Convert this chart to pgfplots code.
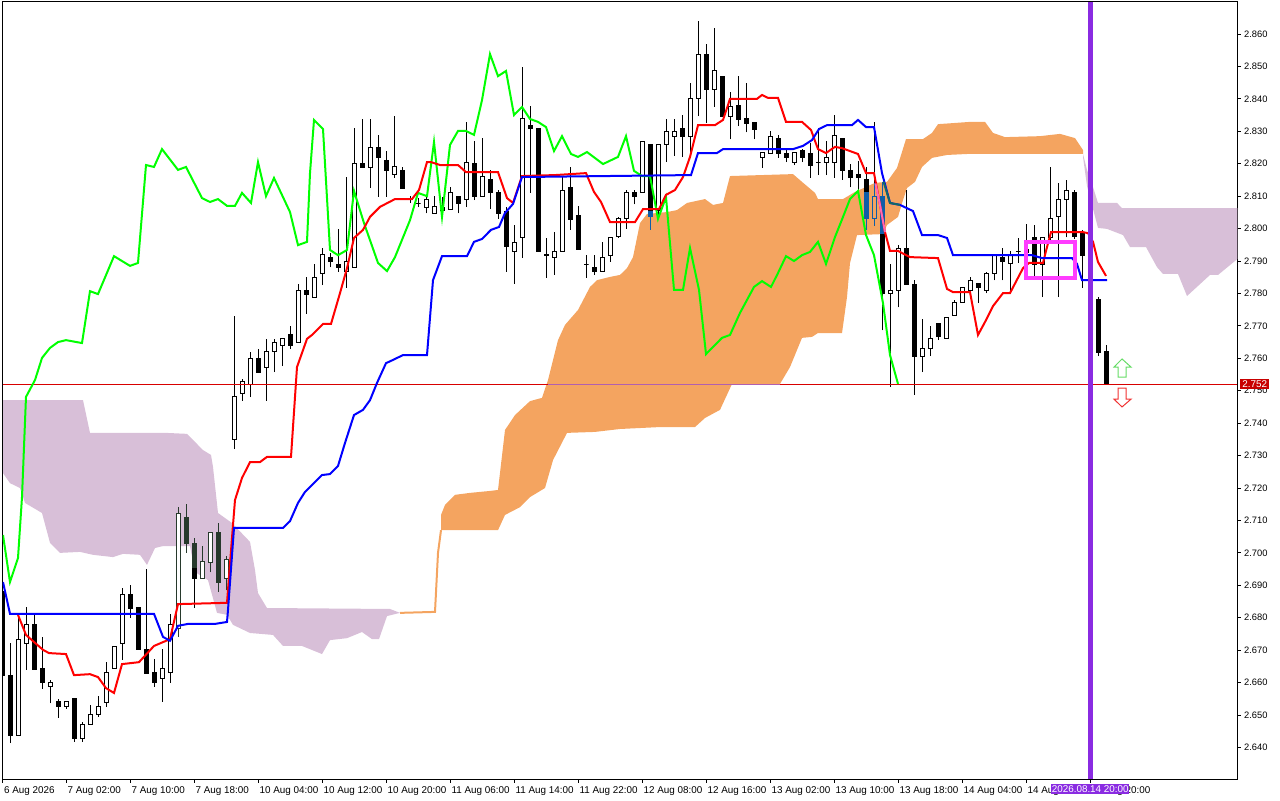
\documentclass[border=0pt]{standalone}
\usepackage{fontspec}
\setmainfont{Liberation Sans}
\usepackage{pgfplots}
\pgfplotsset{compat=1.18}
\definecolor{cloudP}{HTML}{D8BFD8}
\definecolor{cloudO}{HTML}{F4A460}
\definecolor{darkC}{HTML}{27392C}
\definecolor{blueC}{HTML}{0F5DA8}
\definecolor{vline}{HTML}{8A2BE2}
\definecolor{rectM}{HTML}{FF3CFF}
\definecolor{bid}{HTML}{D80000}
% candle: stroke, fill, x, low, body low, body high, high
\newcommand{\candle}[7]{%
  \pgfmathsetmacro\xa{#3-2.3}\pgfmathsetmacro\xb{#3+2.3}%
  \addplot[#1, line width=.75pt, forget plot] coordinates {(#3,#4)(#3,#7)};
  \addplot[draw=#1, fill=#2, line width=.75pt, forget plot] coordinates {(\xa,#5)(\xb,#5)(\xb,#6)(\xa,#6)} -- cycle;
}
% x open close low high
\newcommand{\U}[5]{\candle{black}{white}{#1}{#4}{#2}{#3}{#5}}
\newcommand{\D}[5]{\candle{black}{black}{#1}{#4}{#3}{#2}{#5}}
\newcommand{\Ud}[5]{\candle{darkC}{white}{#1}{#4}{#2}{#3}{#5}}
\newcommand{\Dd}[5]{\candle{darkC}{darkC}{#1}{#4}{#3}{#2}{#5}}
\begin{document}
\begin{tikzpicture}
\path[use as bounding box] (-2.025pt,-15.525pt) rectangle (957.975pt,584.475pt);
\begin{axis}[name=ax, at={(0,0)}, anchor=south west, scale only axis, width=925.95pt, height=582.975pt,
  xmin=2.7, xmax=1237.3, ymin=2.63018, ymax=2.86987, clip mode=individual,
  axis line style={line width=.75pt}, tick style={line width=.75pt, black},
  major tick length=2.6pt, tick align=outside,
  xtick pos=bottom, ytick pos=right, yticklabel pos=right,
  ytick={2.64,2.65,2.66,2.67,2.68,2.69,2.70,2.71,2.72,2.73,2.74,2.75,2.76,2.77,2.78,2.79,2.80,2.81,2.82,2.83,2.84,2.85,2.86},
  y tick label style={font=\fontsize{7}{8}\selectfont, anchor=west, xshift=-1pt, /pgf/number format/.cd, fixed, fixed zerofill, precision=3, assume math mode=true},
  scaled y ticks=false,
  xtick={2.7,66.3,130.3,194.3,258.3,322.3,386.3,450.3,514.3,578.3,642.3,706.3,770.3,834.3,898.3,962.3,1026.3,1090.3},
  xticklabels={6 Aug 2026,7 Aug 02:00,7 Aug 10:00,7 Aug 18:00,10 Aug 04:00,10 Aug 12:00,10 Aug 20:00,11 Aug 06:00,11 Aug 14:00,11 Aug 22:00,12 Aug 08:00,12 Aug 16:00,13 Aug 02:00,13 Aug 10:00,13 Aug 18:00,14 Aug 04:00,14 Aug 12:00,14 Aug 20:00},
  x tick label style={font=\fontsize{7.4}{8}\selectfont, anchor=north west, xshift=-2.5pt, yshift=0.5pt},
]
% Kumo
\addplot[fill=cloudP, draw=none, forget plot] coordinates {
(3,2.7471)(83,2.7471)(90,2.7370)(166,2.7370)(187,2.7367)(203,2.7317)(211,2.7302)(213,2.7265)(218,2.7123)(232,2.7092)(250,2.7034)(255,2.6947)(258,2.6876)(267,2.6830)(390,2.6827)(400,2.6815)
(387,2.6805)(379,2.6734)(372,2.6734)(362,2.6756)(347,2.6737)(330,2.6731)(322,2.6688)(302,2.6713)(283,2.6713)(273,2.6747)(250,2.6753)(233,2.6778)(227,2.6809)(217,2.6815)(208,2.6916)(195,2.6941)(190,2.7021)(163,2.7021)(155,2.7015)(147,2.6963)(140,2.6994)(123,2.6997)(113,2.6987)(93,2.6994)(80,2.7003)(60,2.7000)(50,2.7031)(42,2.7123)(25,2.7154)(20,2.7200)(10,2.7215)(3,2.7246)} -- cycle;
\addplot[fill=cloudO, draw=none, forget plot] coordinates {
(441,2.7117)(445,2.7148)(455,2.7179)(470,2.7185)(490,2.7191)(498,2.7194)(505,2.7379)(515,2.7425)(530,2.7468)(542,2.7478)(548,2.7533)(558,2.7656)(565,2.7703)(578,2.7749)(590,2.7820)(597,2.7841)(610,2.7851)(620,2.7857)(627,2.7878)(633,2.7912)(640,2.8017)(647,2.8045)(667,2.8051)(677,2.8057)(687,2.8079)(705,2.8091)(713,2.8073)(723,2.8079)(730,2.8162)(793,2.8168)(802,2.8144)(815,2.8110)(818,2.8091)(843,2.8091)(855,2.8113)(875,2.8141)(887,2.8144)(897,2.8187)(906,2.8276)(923,2.8276)(932,2.8295)(938,2.8322)(970,2.8329)(985,2.8329)(993,2.8295)(1005,2.8282)(1040,2.8285)(1060,2.8292)(1075,2.8279)(1083,2.8242)
(1083,2.8230)(967,2.8230)(947,2.8227)(932,2.8218)(922,2.8190)(915,2.8144)(907,2.8125)(903,2.8088)(898,2.8036)(887,2.8011)(883,2.7983)(857,2.7980)(850,2.7894)(847,2.7789)(842,2.7678)(818,2.7678)(812,2.7666)(802,2.7663)(790,2.7573)(780,2.7521)(732,2.7521)(720,2.7441)(705,2.7416)(695,2.7388)(660,2.7388)(620,2.7382)(595,2.7373)(567,2.7370)(553,2.7286)(545,2.7200)(530,2.7172)(520,2.7141)(505,2.7117)(498,2.7070)(441,2.7070)} -- cycle;
\addplot[cloudO, line width=1.5pt, forget plot] coordinates {(400,2.6815)(435,2.6818)(438,2.7000)(441,2.7070)};
\addplot[fill=cloudP, draw=none, forget plot] coordinates {
(1083,2.8230)(1087,2.8181)(1093,2.8128)(1098,2.8079)(1117,2.8079)(1122,2.8063)(1237.3,2.8063)
(1237.3,2.7906)(1218,2.7857)(1210,2.7857)(1187,2.7792)(1178,2.7860)(1163,2.7860)(1157,2.7881)(1146,2.7943)(1130,2.7943)(1123,2.7980)(1107,2.7999)(1098,2.8002)(1087,2.8131)(1083,2.8221)} -- cycle;
% Candles
\D{2.3}{2.6880}{2.6623}{2.6600}{2.6900}
\D{10.3}{2.6623}{2.6438}{2.6413}{2.6722}
\U{18.3}{2.6438}{2.6732}{2.6438}{2.6808}
\U{26.3}{2.6722}{2.6780}{2.6639}{2.6833}
\D{34.3}{2.6780}{2.6639}{2.6639}{2.6808}
\D{42.3}{2.6642}{2.6599}{2.6581}{2.6741}
\U{50.3}{2.6587}{2.6600}{2.6536}{2.6609}
\D{58.3}{2.6541}{2.6526}{2.6491}{2.6550}
\U{66.3}{2.6526}{2.6541}{2.6520}{2.6541}
\D{74.3}{2.6550}{2.6427}{2.6418}{2.6550}
\U{82.3}{2.6427}{2.6470}{2.6418}{2.6480}
\U{90.3}{2.6470}{2.6503}{2.6470}{2.6530}
\U{98.3}{2.6503}{2.6526}{2.6494}{2.6560}
\U{106.3}{2.6538}{2.6631}{2.6526}{2.6664}
\U{114.3}{2.6642}{2.6710}{2.6642}{2.6710}
\U{122.3}{2.6722}{2.6873}{2.6670}{2.6892}
\D{130.3}{2.6873}{2.6830}{2.6800}{2.6900}
\D{138.3}{2.6833}{2.6703}{2.6703}{2.6833}
\D{146.3}{2.6703}{2.6629}{2.6629}{2.6950}
\D{154.3}{2.6632}{2.6600}{2.6587}{2.6672}
\U{162.3}{2.6612}{2.6642}{2.6541}{2.6703}
\U{170.3}{2.6632}{2.6780}{2.6600}{2.6810}
\Ud{178.3}{2.6767}{2.7120}{2.6740}{2.7140}
\Dd{186.3}{2.7110}{2.7030}{2.7000}{2.7150}
\D{194.3}{2.7030}{2.6920}{2.6830}{2.7045}
\Dd{194.3}{2.7030}{2.6955}{2.6955}{2.7045}
\Ud{202.3}{2.6920}{2.6973}{2.6920}{2.7020}
\Ud{210.3}{2.6970}{2.7062}{2.6940}{2.7062}
\Dd{218.3}{2.7062}{2.6910}{2.6880}{2.7092}
\Ud{226.3}{2.6920}{2.6980}{2.6885}{2.6990}
\U{234.3}{2.7351}{2.7481}{2.7320}{2.7730}
\U{242.3}{2.7490}{2.7527}{2.7469}{2.7535}
\U{250.3}{2.7520}{2.7600}{2.7480}{2.7620}
\D{258.3}{2.7600}{2.7557}{2.7557}{2.7630}
\U{266.3}{2.7573}{2.7620}{2.7469}{2.7660}
\U{274.3}{2.7620}{2.7650}{2.7557}{2.7660}
\U{282.3}{2.7638}{2.7660}{2.7576}{2.7660}
\D{290.3}{2.7672}{2.7638}{2.7628}{2.7700}
\U{298.3}{2.7650}{2.7810}{2.7650}{2.7830}
\D{306.3}{2.7810}{2.7798}{2.7737}{2.7850}
\U{314.3}{2.7789}{2.7850}{2.7789}{2.7890}
\U{322.3}{2.7860}{2.7919}{2.7826}{2.7941}
\D{330.3}{2.7910}{2.7897}{2.7880}{2.7925}
\D{338.3}{2.7890}{2.7880}{2.7867}{2.7999}
\U{346.3}{2.7867}{2.7897}{2.7817}{2.8160}
\U{354.3}{2.7880}{2.8200}{2.7880}{2.8310}
\D{362.3}{2.8200}{2.8187}{2.8187}{2.8338}
\U{370.3}{2.8187}{2.8249}{2.8125}{2.8338}
\D{378.3}{2.8249}{2.8218}{2.8098}{2.8288}
\D{386.3}{2.8209}{2.8178}{2.8098}{2.8240}
\U{394.3}{2.8168}{2.8190}{2.8156}{2.8347}
\D{402.3}{2.8178}{2.8125}{2.8125}{2.8190}
\D{410.3}{2.8094}{2.8091}{2.8080}{2.8100}
\D{418.3}{2.8078}{2.8078}{2.8066}{2.8094}
\U{426.3}{2.8066}{2.8091}{2.8047}{2.8100}
\U{434.3}{2.8047}{2.8069}{2.8047}{2.8100}
\D{442.3}{2.8066}{2.8057}{2.8030}{2.8098}
\U{450.3}{2.8060}{2.8110}{2.8060}{2.8127}
\D{458.3}{2.8100}{2.8078}{2.8047}{2.8100}
\U{466.3}{2.8091}{2.8205}{2.8066}{2.8328}
\D{474.3}{2.8200}{2.8098}{2.8088}{2.8270}
\U{482.3}{2.8098}{2.8160}{2.8098}{2.8280}
\D{490.3}{2.8150}{2.8110}{2.8060}{2.8180}
\D{498.3}{2.8110}{2.8047}{2.8030}{2.8118}
\D{506.3}{2.8053}{2.7945}{2.7867}{2.8066}
\U{514.3}{2.7928}{2.7958}{2.7830}{2.8010}
\U{522.3}{2.7971}{2.8338}{2.7910}{2.8498}
\D{530.3}{2.8319}{2.8310}{2.8110}{2.8378}
\D{538.3}{2.8310}{2.7928}{2.7928}{2.8310}
\D{546.3}{2.7920}{2.7918}{2.7848}{2.7971}
\U{554.3}{2.7910}{2.7928}{2.7858}{2.7990}
\U{562.3}{2.7928}{2.8118}{2.7928}{2.8160}
\D{570.3}{2.8127}{2.8027}{2.7996}{2.8190}
\D{578.3}{2.8039}{2.7935}{2.7935}{2.8070}
\D{586.3}{2.7890}{2.7890}{2.7848}{2.7919}
\D{594.3}{2.7880}{2.7867}{2.7858}{2.7919}
\U{602.3}{2.7867}{2.7910}{2.7867}{2.7958}
\U{610.3}{2.7916}{2.7971}{2.7897}{2.7971}
\U{618.3}{2.7977}{2.8030}{2.7971}{2.8036}
\U{626.3}{2.8030}{2.8110}{2.7999}{2.8118}
\D{634.3}{2.8110}{2.8098}{2.8075}{2.8118}
\U{642.3}{2.8110}{2.8270}{2.8110}{2.8270}
\D{650.3}{2.8260}{2.8036}{2.7996}{2.8260}
\candle{blueC}{blueC}{650.3}{2.7996}{2.8036}{2.8053}{2.8053}
\U{658.3}{2.8057}{2.8258}{2.8036}{2.8260}
\U{666.3}{2.8260}{2.8300}{2.8205}{2.8338}
\U{674.3}{2.8285}{2.8300}{2.8225}{2.8338}
\D{682.3}{2.8310}{2.8285}{2.8220}{2.8350}
\U{690.3}{2.8285}{2.8400}{2.8225}{2.8450}
\U{698.3}{2.8400}{2.8538}{2.8347}{2.8640}
\D{706.3}{2.8538}{2.8430}{2.8325}{2.8570}
\U{714.3}{2.8430}{2.8487}{2.8375}{2.8620}
\D{722.3}{2.8470}{2.8347}{2.8347}{2.8470}
\U{730.3}{2.8347}{2.8375}{2.8275}{2.8420}
\D{738.3}{2.8378}{2.8335}{2.8316}{2.8470}
\D{746.3}{2.8338}{2.8325}{2.8297}{2.8450}
\D{754.3}{2.8328}{2.8307}{2.8275}{2.8328}
\U{762.3}{2.8220}{2.8236}{2.8187}{2.8236}
\U{770.3}{2.8230}{2.8285}{2.8230}{2.8300}
\D{778.3}{2.8279}{2.8230}{2.8218}{2.8288}
\D{786.3}{2.8230}{2.8218}{2.8205}{2.8243}
\U{794.3}{2.8205}{2.8236}{2.8196}{2.8236}
\D{802.3}{2.8240}{2.8218}{2.8205}{2.8246}
\D{810.3}{2.8230}{2.8196}{2.8156}{2.8264}
\D{818.3}{2.8205}{2.8205}{2.8165}{2.8310}
\U{826.3}{2.8205}{2.8220}{2.8165}{2.8270}
\U{834.3}{2.8205}{2.8288}{2.8156}{2.8350}
\D{842.3}{2.8279}{2.8178}{2.8150}{2.8279}
\D{850.3}{2.8178}{2.8156}{2.8127}{2.8200}
\D{858.3}{2.8168}{2.8156}{2.8112}{2.8209}
\D{866.3}{2.8150}{2.8030}{2.7996}{2.8190}
\candle{blueC}{blueC}{866.3}{2.7996}{2.8030}{2.8112}{2.8112}
\U{874.3}{2.8030}{2.8100}{2.8008}{2.8328}
\candle{blueC}{cloudO}{874.3}{2.8008}{2.8030}{2.8100}{2.8141}
\D{882.3}{2.8100}{2.7800}{2.7686}{2.8145}
\candle{blueC}{blueC}{882.3}{2.7985}{2.7985}{2.8100}{2.8144}
\U{890.3}{2.7800}{2.7810}{2.7513}{2.7890}
\U{898.3}{2.7810}{2.7940}{2.7757}{2.7950}
\D{906.3}{2.7940}{2.7829}{2.7829}{2.8120}
\D{914.3}{2.7829}{2.7607}{2.7487}{2.7841}
\U{922.3}{2.7607}{2.7631}{2.7557}{2.7721}
\U{930.3}{2.7631}{2.7660}{2.7607}{2.7700}
\D{938.3}{2.7708}{2.7668}{2.7656}{2.7708}
\U{946.3}{2.7660}{2.7727}{2.7660}{2.7727}
\U{954.3}{2.7733}{2.7773}{2.7733}{2.7780}
\U{962.3}{2.7773}{2.7817}{2.7773}{2.7817}
\U{970.3}{2.7810}{2.7840}{2.7810}{2.7850}
\D{978.3}{2.7830}{2.7817}{2.7770}{2.7830}
\U{986.3}{2.7808}{2.7860}{2.7800}{2.7865}
\U{994.3}{2.7860}{2.7917}{2.7840}{2.7920}
\D{1002.3}{2.7910}{2.7900}{2.7840}{2.7940}
\U{1010.3}{2.7891}{2.7919}{2.7806}{2.7930}
\D{1018.3}{2.7930}{2.7930}{2.7895}{2.7970}
\U{1026.3}{2.7925}{2.7935}{2.7915}{2.8015}
\D{1034.3}{2.7971}{2.7890}{2.7855}{2.8011}
\U{1042.3}{2.7890}{2.7971}{2.7789}{2.7971}
\U{1050.3}{2.7973}{2.8030}{2.7966}{2.8190}
\U{1058.3}{2.8036}{2.8091}{2.7789}{2.8140}
\U{1066.3}{2.8091}{2.8118}{2.7973}{2.8150}
\D{1074.3}{2.8110}{2.7977}{2.7968}{2.8118}
\D{1082.3}{2.7985}{2.7916}{2.7817}{2.7997}
\D{1090.3}{2.7880}{2.7790}{2.7780}{2.7900}
\D{1098.3}{2.7780}{2.7617}{2.7607}{2.7789}
\D{1106.3}{2.7620}{2.7520}{2.7520}{2.7640}
% Bid line
\addplot[bid, line width=.75pt, forget plot] coordinates {(2.7,2.752)(1237.3,2.752)};
\addplot[color={rgb,255:red,176;green,95;blue,176}, line width=.75pt, forget plot] coordinates {(548,2.752)(780,2.752)};
% Chikou
\addplot[color={rgb,255:red,0;green,255;blue,0}, line width=1.5pt, forget plot] coordinates {
(3,2.7055)(10,2.6910)(18,2.6984)(22,2.7172)(26,2.7481)(35,2.7533)(42,2.7601)(50,2.7632)(58,2.7650)(66,2.7656)(82,2.7647)(90,2.7807)(98,2.7798)(114,2.7915)(130,2.7885)(138,2.7894)(146,2.8196)(154,2.8190)(162,2.8245)(178,2.8181)(186,2.8190)(202,2.8094)(210,2.8082)(218,2.8091)(227,2.8070)(235,2.8070)(242,2.8110)(251,2.8079)(258,2.8205)(266,2.8100)(274,2.8156)(283,2.8097)(290,2.8051)(298,2.7949)(307,2.7959)(310,2.8171)(314,2.8335)(323,2.8307)(330,2.7934)(338,2.7918)(347,2.7934)(354,2.8116)(364,2.8017)(378,2.7894)(387,2.7869)(395,2.7912)(410,2.8026)(418,2.8110)(427,2.8100)(434,2.8267)(442,2.8036)(450,2.8258)(458,2.8301)(466,2.8301)(474,2.8289)(482,2.8396)(490,2.8538)(498,2.8470)(506,2.8486)(514,2.8350)(522,2.8375)(530,2.8338)(538,2.8329)(546,2.8313)(554,2.8239)(562,2.8285)(571,2.8230)(578,2.8221)(587,2.8236)(603,2.8199)(618,2.8221)(626,2.8285)(634,2.8178)(642,2.8162)(650,2.8162)(658,2.8030)(666,2.8097)(674,2.7811)(683,2.7811)(690,2.7940)(699,2.7811)(706,2.7613)(722,2.7663)(730,2.7672)(740,2.7740)(754,2.7820)(762,2.7838)(771,2.7820)(778,2.7863)(786,2.7915)(794,2.7900)(802,2.7918)(810,2.7928)(818,2.7959)(826,2.7891)(835,2.7974)(843,2.8036)(850,2.8091)(858,2.8116)(866,2.7980)(874,2.7918)(883,2.7770)(890,2.7610)(898,2.7521)};
% Tenkan
\addplot[red, line width=1.5pt, forget plot] coordinates {
(18,2.6809)(26,2.6747)(33,2.6728)(43,2.6701)(49,2.6691)(66,2.6688)(74,2.6623)(90,2.6626)(98,2.6617)(106,2.6583)(114,2.6568)(122,2.6657)(139,2.6663)(154,2.6713)(170,2.6734)(178,2.6842)(227,2.6846)(233,2.7086)(235,2.7163)(242,2.7231)(250,2.7280)(260,2.7280)(267,2.7296)(291,2.7296)(297,2.7573)(307,2.7660)(312,2.7672)(323,2.7706)(331,2.7706)(340,2.7801)(347,2.7878)(354,2.7971)(363,2.7996)(370,2.8036)(380,2.8067)(395,2.8091)(412,2.8091)(419,2.8119)(427,2.8205)(431,2.8205)(440,2.8196)(458,2.8196)(466,2.8174)(498,2.8174)(507,2.8094)(513,2.8079)(522,2.8162)(555,2.8165)(586,2.8171)(594,2.8113)(601,2.8082)(610,2.8020)(635,2.8020)(643,2.8060)(659,2.8060)(666,2.8104)(675,2.8119)(683,2.8159)(690,2.8221)(698,2.8319)(715,2.8319)(723,2.8335)(730,2.8400)(757,2.8400)(762,2.8412)(768,2.8403)(778,2.8403)(786,2.8329)(802,2.8329)(811,2.8304)(818,2.8245)(826,2.8233)(835,2.8252)(842,2.8248)(858,2.8230)(866,2.8171)(874,2.8171)(880,2.8073)(885,2.7989)(890,2.7931)(898,2.7931)(910,2.7912)(938,2.7909)(947,2.7814)(953,2.7804)(970,2.7804)(978,2.7672)(985,2.7712)(993,2.7761)(1003,2.7801)(1010,2.7801)(1023,2.7878)(1029,2.7894)(1043,2.7894)(1047,2.7943)(1051,2.7989)(1083,2.7989)(1088,2.7986)(1093,2.7959)(1098,2.7897)(1106,2.7854)};
\addplot[color={rgb,255:red,255;green,105;blue,180}, line width=1.5pt, forget plot] coordinates {(875.5,2.8139)(880,2.8073)(885,2.7989)};
% Kijun
\addplot[blue, line width=1.5pt, forget plot] coordinates {
(3,2.6910)(10,2.6812)(154,2.6812)(163,2.6741)(170,2.6729)(178,2.6775)(188,2.6781)(215,2.6781)(227,2.6787)(228,2.6824)(234,2.7077)(283,2.7077)(290,2.7098)(298,2.7154)(305,2.7188)(322,2.7240)(330,2.7243)(338,2.7268)(345,2.7339)(354,2.7425)(363,2.7441)(370,2.7471)(377,2.7524)(386,2.7585)(393,2.7595)(403,2.7610)(427,2.7610)(433,2.7841)(442,2.7915)(467,2.7915)(474,2.7959)(482,2.7968)(491,2.7996)(499,2.8005)(505,2.8048)(513,2.8076)(522,2.8159)(691,2.8165)(698,2.8233)(717,2.8233)(723,2.8245)(793,2.8245)(803,2.8255)(812,2.8273)(819,2.8307)(827,2.8319)(852,2.8319)(858,2.8335)(866,2.8313)(874,2.8313)(882,2.8171)(890,2.8079)(900,2.8073)(913,2.8054)(922,2.7980)(938,2.7980)(947,2.7971)(953,2.7918)(1032,2.7918)(1042,2.7909)(1072,2.7909)(1077,2.7891)(1082,2.7841)(1107,2.7841)};
\addplot[color={rgb,255:red,16;green,104;blue,104}, line width=1.5pt, forget plot] coordinates {(883.5,2.8145)(890,2.8079)(900,2.8073)};
% Marker rectangle
\addplot[rectM, line width=3.2pt, forget plot] coordinates {(1026,2.7958)(1075,2.7958)(1075,2.7848)(1026,2.7848)} -- cycle;
% Arrows
\addplot[color={rgb,255:red,102;green,220;blue,102}, fill=white, line width=.75pt, forget plot] coordinates {(1122,2.7598)(1131,2.7573)(1126,2.7573)(1126,2.7542)(1118,2.7542)(1118,2.7573)(1114,2.7573)} -- cycle;
\addplot[color={rgb,255:red,240;green,50;blue,50}, fill=white, line width=.75pt, forget plot] coordinates {(1122,2.7450)(1131,2.7474)(1126,2.7474)(1126,2.7508)(1118,2.7508)(1118,2.7474)(1114,2.7474)} -- cycle;
% Event line
\addplot[vline, line width=3.75pt, forget plot] coordinates {(1090.5,2.63018)(1090.5,2.86987)};
\end{axis}
\node[fill={rgb,255:red,200;green,0;blue,0}, text=white, inner sep=0pt, minimum width=21.75pt, minimum height=7.5pt, anchor=west, font=\fontsize{7.4}{8}\selectfont] at (927.975pt,296.45pt) {2.752};
\node[fill=vline, text=white, inner sep=0pt, minimum width=58.5pt, minimum height=7.5pt, anchor=west, font=\fontsize{7.4}{8}\selectfont] at (786.2pt,-7.25pt) {2026.08.14 20:00};
\end{tikzpicture}
\end{document}
